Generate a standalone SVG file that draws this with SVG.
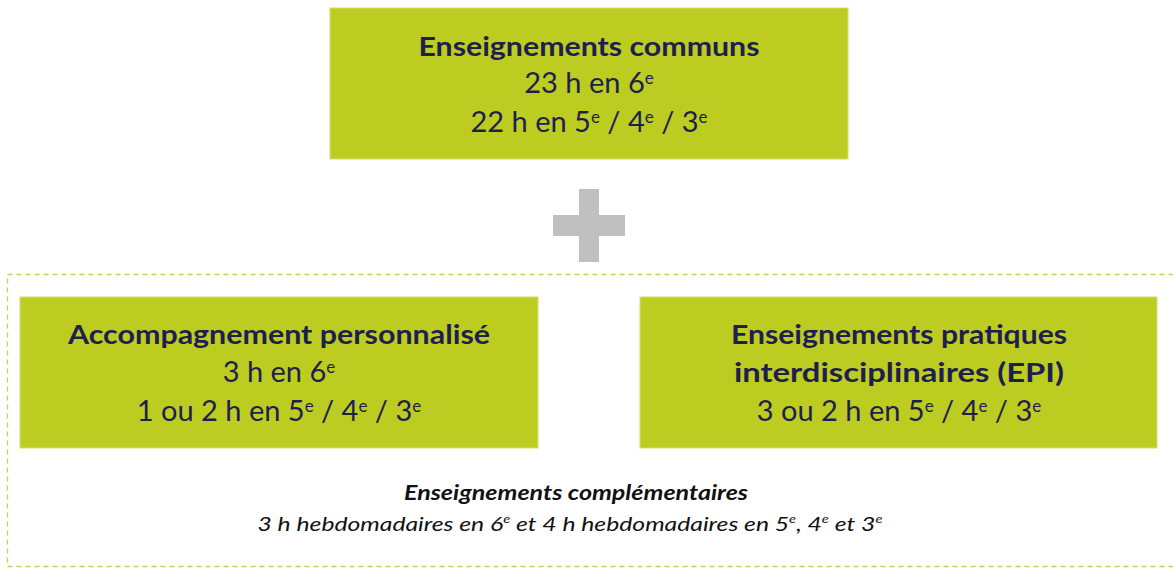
<svg xmlns="http://www.w3.org/2000/svg" width="1173" height="568" viewBox="0 0 1173 568">
<style>
.box{fill:#BCCC21;stroke:#D4DE70;stroke-width:1}
.t{font-family:Lato,"Open Sans",sans-serif;fill:#1E1F4E;text-anchor:middle;font-size:29px}
.b{font-weight:bold;font-size:27px}
.c{font-family:Lato,"Open Sans",sans-serif;fill:#111;text-anchor:middle;font-style:italic}
.sup{font-size:17px}
</style>
<rect width="1173" height="568" fill="#fff"/>
<rect x="7.5" y="274.5" width="1175" height="292" fill="none" stroke="#C5D150" stroke-width="1.3" stroke-dasharray="5,4"/>
<g id="plus" fill="#C0C0C0">
<rect x="579" y="189" width="20" height="73"/>
<rect x="553" y="215" width="72" height="21"/>
</g>
<g id="communs">
<rect class="box" x="330" y="8" width="518" height="151"/>
<text class="t b" x="589" y="56" textLength="341" lengthAdjust="spacingAndGlyphs">Enseignements communs</text>
<text class="t" x="589" y="93">23 h en 6<tspan class="sup" dy="-9">e</tspan></text>
<text class="t" x="589" y="132">22 h en 5<tspan class="sup" dy="-9">e</tspan><tspan dy="9"> / 4</tspan><tspan class="sup" dy="-9">e</tspan><tspan dy="9"> / 3</tspan><tspan class="sup" dy="-9">e</tspan></text>
</g>
<g id="ap">
<rect class="box" x="20" y="297" width="518" height="151"/>
<text class="t b" x="279" y="344" textLength="422" lengthAdjust="spacingAndGlyphs">Accompagnement personnalisé</text>
<text class="t" x="279" y="382">3 h en 6<tspan class="sup" dy="-9">e</tspan></text>
<text class="t" x="279" y="421">1 ou 2 h en 5<tspan class="sup" dy="-9">e</tspan><tspan dy="9"> / 4</tspan><tspan class="sup" dy="-9">e</tspan><tspan dy="9"> / 3</tspan><tspan class="sup" dy="-9">e</tspan></text>
</g>
<g id="epi">
<rect class="box" x="640" y="297" width="517" height="151"/>
<text class="t b" x="899" y="344" textLength="336" lengthAdjust="spacingAndGlyphs">Enseignements pratiques</text>
<text class="t b" x="899" y="382" textLength="330" lengthAdjust="spacingAndGlyphs">interdisciplinaires (EPI)</text>
<text class="t" x="899" y="421">3 ou 2 h en 5<tspan class="sup" dy="-9">e</tspan><tspan dy="9"> / 4</tspan><tspan class="sup" dy="-9">e</tspan><tspan dy="9"> / 3</tspan><tspan class="sup" dy="-9">e</tspan></text>
</g>
<g id="complementaires">
<text class="c" x="576" y="500" font-size="20" font-weight="bold" textLength="344" lengthAdjust="spacingAndGlyphs">Enseignements complémentaires</text>
<text class="c" x="570" y="531" font-size="20" textLength="625" lengthAdjust="spacingAndGlyphs">3 h hebdomadaires en 6<tspan font-size="12" dy="-8">e</tspan><tspan dy="8"> et 4 h hebdomadaires en 5</tspan><tspan font-size="12" dy="-8">e</tspan><tspan dy="8">, 4</tspan><tspan font-size="12" dy="-8">e</tspan><tspan dy="8"> et 3</tspan><tspan font-size="12" dy="-8">e</tspan></text>
</g>
<g id="connectors"/>
</svg>
